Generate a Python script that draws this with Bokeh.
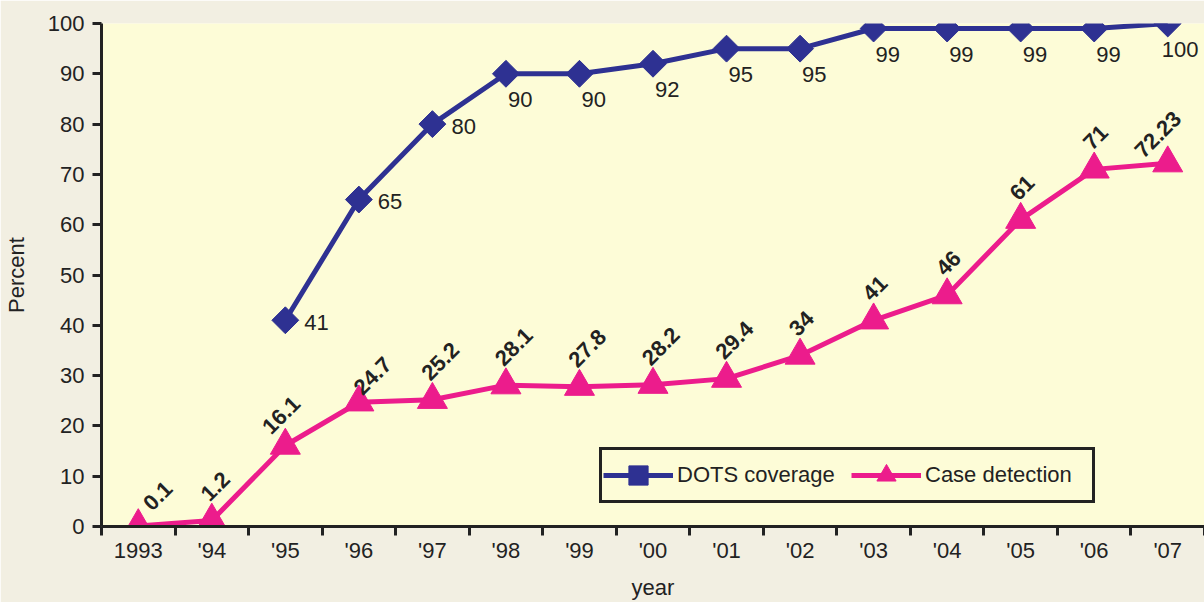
import numpy as np
from bokeh.plotting import figure
from bokeh.models import ColumnDataSource, LabelSet, FixedTicker, Range1d, Legend, LegendItem
from bokeh.core.properties import value
from bokeh.embed import file_html
from bokeh.resources import INLINE

years = ["1993", "'94", "'95", "'96", "'97", "'98", "'99", "'00", "'01", "'02", "'03", "'04", "'05", "'06", "'07"]
dots_coverage = [None, None, 41, 65, 80, 90, 90, 92, 95, 95, 99, 99, 99, 99, 100]
case_detection = [0.1, 1.2, 16.1, 24.7, 25.2, 28.1, 27.8, 28.2, 29.4, 34, 41, 46, 61, 71, 72.23]
y_ticks = [0, 10, 20, 30, 40, 50, 60, 70, 80, 90, 100]

FONT = "Liberation Sans"
BLUE = "#2e3192"
PINK = "#ec1c8c"
INK = "#222222"

xs = list(range(len(years)))
dots_y = [np.nan if v is None else v for v in dots_coverage]

p = figure(width=1204, height=602, output_backend="svg", toolbar_location=None,
           x_range=Range1d(-0.5, len(years) - 0.5), y_range=Range1d(0, 100))
p.min_border_left = 100
p.min_border_right = 0
p.min_border_top = 23
p.min_border_bottom = 76
p.background_fill_color = "#fdfcd7"
p.border_fill_color = "#f2efe2"
p.outline_line_color = None
p.xgrid.visible = False
p.ygrid.visible = False

# axes
xa = p.xaxis[0]
xa.ticker = FixedTicker(ticks=xs, minor_ticks=[i - 0.5 for i in range(len(years) + 1)])
xa.major_label_overrides = {i: y for i, y in enumerate(years)}
xa.major_tick_out = 0
xa.major_tick_in = 0
xa.minor_tick_out = 9
xa.minor_tick_in = 0
xa.minor_tick_line_width = 3
xa.minor_tick_line_color = INK
xa.axis_line_width = 3
xa.axis_line_color = INK
xa.major_label_text_font = FONT
xa.major_label_text_font_size = "22px"
xa.major_label_text_color = INK
xa.major_label_standoff = 2
xa.axis_label = "year"
xa.axis_label_text_font = FONT
xa.axis_label_text_font_size = "22px"
xa.axis_label_text_font_style = "normal"
xa.axis_label_text_color = INK
xa.axis_label_standoff = 9

ya = p.yaxis[0]
ya.ticker = FixedTicker(ticks=y_ticks, minor_ticks=[])
ya.major_tick_out = 9
ya.major_tick_in = 0
ya.major_tick_line_width = 3
ya.major_tick_line_color = INK
ya.axis_line_width = 3
ya.axis_line_color = INK
ya.major_label_text_font = FONT
ya.major_label_text_font_size = "22px"
ya.major_label_text_color = INK
ya.major_label_standoff = 8
ya.axis_label = "Percent"
ya.axis_label_text_font = FONT
ya.axis_label_text_font_size = "22px"
ya.axis_label_text_font_style = "normal"
ya.axis_label_text_color = INK
ya.axis_label_standoff = 16

# series
src_d = ColumnDataSource(dict(x=xs, y=dots_y))
src_c = ColumnDataSource(dict(x=xs, y=case_detection))

l1 = p.line("x", "y", source=src_d, line_color=BLUE, line_width=5)
m1 = p.scatter("x", "y", source=src_d, marker="square", angle=np.pi / 4, size=19,
               fill_color=BLUE, line_color=BLUE)
l2 = p.line("x", "y", source=src_c, line_color=PINK, line_width=5)
m2 = p.scatter("x", "y", source=src_c, marker="triangle", size=30,
               fill_color=PINK, line_color=PINK)

# DOTS value labels: right of the point for the low ones, below for the high ones
n_last = len(xs) - 1
dl = dict(x=[], y=[], t=[], xo=[], yo=[])
for x, v in zip(xs, dots_coverage):
    if v is None:
        continue
    dl["x"].append(x)
    dl["y"].append(v)
    dl["t"].append(str(v))
    if v < 85:
        dl["xo"].append(19); dl["yo"].append(-2)
    else:
        dl["xo"].append(-6 if x == n_last else 2); dl["yo"].append(-26)
p.add_layout(LabelSet(x="x", y="y", text="t", source=ColumnDataSource(dl),
                      x_offset="xo", y_offset="yo",
                      text_align="left", text_baseline="middle",
                      text_font=value(FONT), text_font_size="22px", text_color=INK))

# Case detection labels: rotated, placed above the point (nudged where crowded)
nudge = {0: (16, -4), 2: (-12, -8), 3: (6, -12), n_last: (-22, -14)}
cl = dict(x=xs, y=case_detection, t=[f"{v:g}" for v in case_detection],
          xo=[-2 + nudge.get(i, (0, 0))[0] for i in xs],
          yo=[18 + nudge.get(i, (0, 0))[1] for i in xs])
p.add_layout(LabelSet(x="x", y="y", text="t", source=ColumnDataSource(cl),
                      x_offset="xo", y_offset="yo",
                      angle=45, angle_units="deg", text_align="left", text_baseline="alphabetic",
                      text_font=value(FONT), text_font_size="22px", text_font_style="bold",
                      text_color=INK))

legend = Legend(items=[LegendItem(label="DOTS coverage", renderers=[l1, m1]),
                       LegendItem(label="Case detection", renderers=[l2, m2])],
                orientation="horizontal", location=(498, 23))
legend.glyph_width = 70
legend.glyph_height = 48
legend.label_standoff = 4
legend.label_width = 166
legend.spacing = 8
legend.padding = 1
legend.margin = 0
legend.label_text_font = FONT
legend.label_text_font_size = "22px"
legend.label_text_color = INK
legend.border_line_color = INK
legend.border_line_width = 3
legend.border_line_alpha = 1
legend.background_fill_color = "#fdfcd7"
legend.background_fill_alpha = 1
p.add_layout(legend)

open("out.html", "w").write(file_html(p, INLINE))
